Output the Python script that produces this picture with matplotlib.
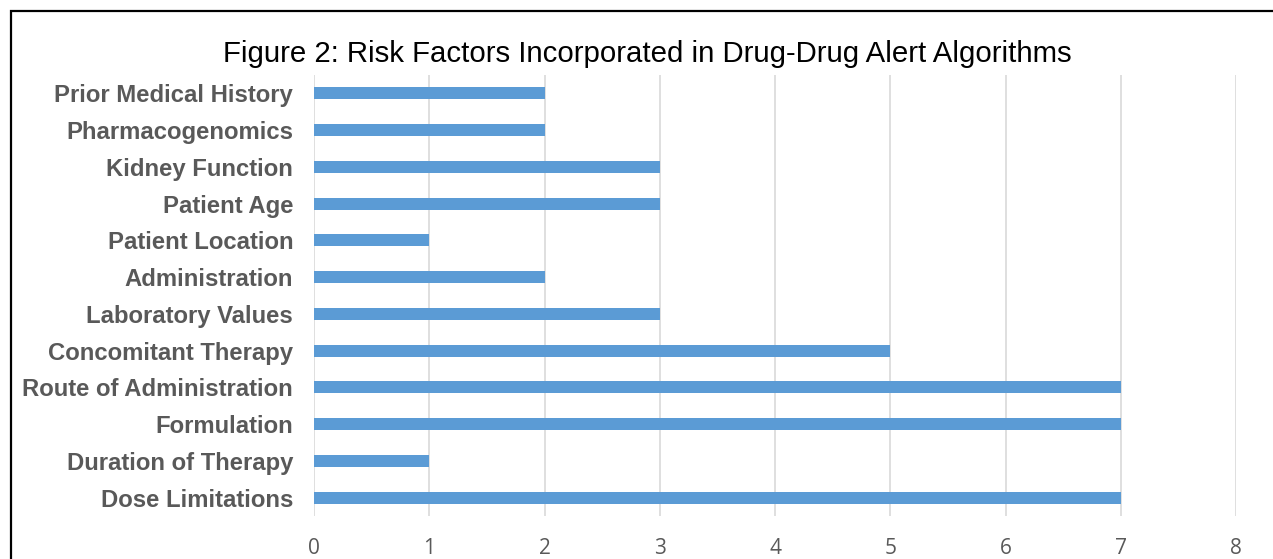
import matplotlib
matplotlib.use("Agg")
import matplotlib.pyplot as plt
from matplotlib.patches import Rectangle

# Risk factors (bottom to top) and number of algorithms incorporating each
factors = [
    "Dose Limitations",
    "Duration of Therapy",
    "Formulation",
    "Route of Administration",
    "Concomitant Therapy",
    "Laboratory Values",
    "Administration",
    "Patient Location",
    "Patient Age",
    "Kidney Function",
    "Pharmacogenomics",
    "Prior Medical History",
]
counts = [7, 1, 7, 7, 5, 3, 2, 1, 3, 3, 2, 2]
x_ticks = [0, 1, 2, 3, 4, 5, 6, 7, 8]

W, H = 1273, 559
fig = plt.figure(figsize=(W / 100, H / 100), dpi=100)
ax = fig.add_axes([314 / W, 1 - 516 / H, (1236 - 314) / W, (516 - 75) / H])

ypos = list(range(len(factors)))
ax.barh(ypos, counts, height=0.33, color="#5B9BD5", zorder=3)

ax.set_xlim(0, 8)
ax.set_ylim(-0.5, len(factors) - 0.5)
ax.set_xticks(x_ticks)
ax.set_xticklabels([str(t) for t in x_ticks], fontfamily="Open Sans",
                   fontsize=15, color="#595959")
ax.set_yticks(ypos)
ax.set_yticklabels(factors, fontfamily="Liberation Sans", fontweight="bold",
                   fontsize=17.2, color="#595959")
ax.tick_params(axis="both", length=0)
ax.tick_params(axis="x", pad=16)
ax.tick_params(axis="y", pad=15)

ax.grid(axis="x", color="#D9D9D9", linewidth=1.2, zorder=0)
for s in ax.spines.values():
    s.set_visible(False)

fig.text(647 / W, 1 - 54 / H,
         "Figure 2: Risk Factors Incorporated in Drug-Drug Alert Algorithms",
         ha="center", va="center", fontfamily="Liberation Sans", fontsize=21.2,
         color="black")

# outer frame, running off the right and bottom edges
fig.patches.append(Rectangle((10.5 / W, -0.1), 1.2, 1 - 10.5 / H + 0.1,
                             transform=fig.transFigure, fill=False,
                             edgecolor="black", linewidth=1.6))

fig.savefig("out.png", dpi=100, facecolor="white")
